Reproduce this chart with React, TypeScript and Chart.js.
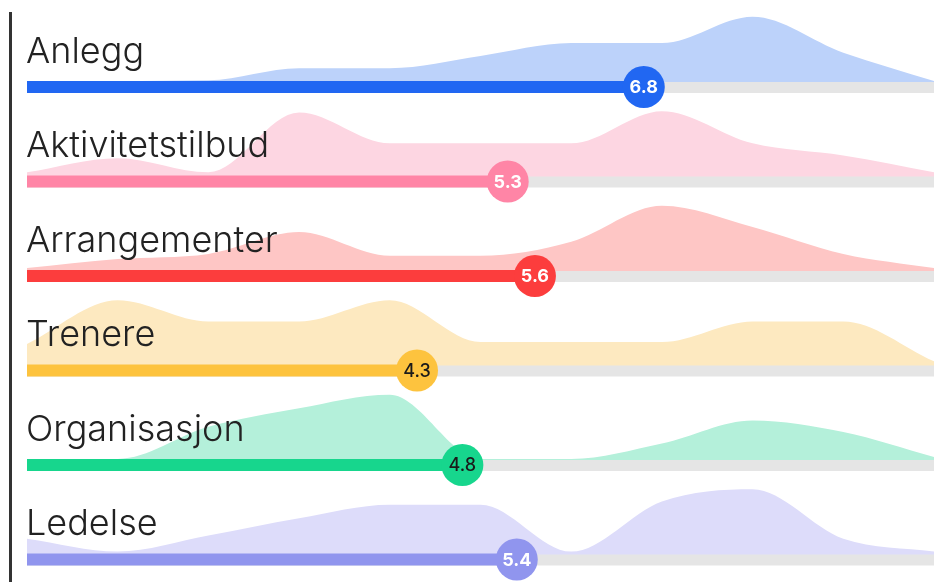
import React, { useEffect, useRef } from "react";
import { Chart, registerables } from "chart.js";

Chart.register(...registerables);

const categories = ["Anlegg", "Aktivitetstilbud", "Arrangementer", "Trenere", "Organisasjon", "Ledelse"];
const scores = [6.8, 5.3, 5.6, 4.3, 4.8, 5.4];
const scoreLabels = ["6.8", "5.3", "5.6", "4.3", "4.8", "5.4"];
const scalePoints = [0, 1, 2, 3, 4, 5, 6, 7, 8, 9, 10];

const densityAnlegg = [0, 0, 0.01, 0.2, 0.2, 0.39, 0.59, 0.59, 1.0, 0.44, 0];
const densityAktivitetstilbud = [0.05, 0.27, 0.05, 0.98, 0.5, 0.5, 0.5, 1.0, 0.5, 0.31, 0.05];
const densityArrangementer = [0.03, 0.17, 0.25, 0.59, 0.22, 0.22, 0.44, 1.0, 0.67, 0.25, 0.03];
const densityTrenere = [0.32, 1.0, 0.67, 0.67, 1.0, 0.35, 0.35, 0.35, 0.67, 0.67, 0.05];
const densityOrganisasjon = [0, 0, 0.5, 0.79, 1.0, 0, 0, 0.24, 0.6, 0.42, 0.03];
const densityLedelse = [0.23, 0.03, 0.28, 0.55, 0.76, 0.76, 0.03, 0.81, 1.0, 0.23, 0.03];

const densities = [
  densityAnlegg,
  densityAktivitetstilbud,
  densityArrangementer,
  densityTrenere,
  densityOrganisasjon,
  densityLedelse,
];

const barColors = ["#2167f2", "#ff85a6", "#fc3d3d", "#fdc33e", "#17d68d", "#9095ee"];
const areaColors = ["#bcd2fa", "#fdd6e2", "#fec6c5", "#fde9c0", "#b4f0da", "#dddcfa"];
const valueTextColors = ["#ffffff", "#ffffff", "#ffffff", "#1a1a1a", "#1a1a1a", "#ffffff"];

const CANVAS_W = 927;
const CANVAS_H = 582;
const PITCH = 94.5;
const FIRST_ROW = 87 / PITCH;
const Y_MAX = CANVAS_H / PITCH;
const BAR_HALF = 6 / PITCH;
const PEAK = 0.68;

export default function App() {
  const ref = useRef<HTMLCanvasElement | null>(null);

  useEffect(() => {
    if (!ref.current) return;
    const datasets: any[] = [];
    const centers = categories.map((_, i) => FIRST_ROW + i);

    categories.forEach((name, i) => {
      const c = centers[i];
      datasets.push({
        label: name + " fordeling",
        order: 40 - i,
        data: scalePoints.map((p, k) => ({ x: p, y: c - BAR_HALF - densities[i][k] * PEAK })),
        borderWidth: 0,
        borderColor: areaColors[i],
        backgroundColor: areaColors[i],
        fill: { value: c },
        pointRadius: 0,
        cubicInterpolationMode: "monotone",
        clip: false,
      });
      datasets.push({
        label: name + " skala",
        order: 30 - i,
        data: [
          { x: scalePoints[0], y: c + 0.6 / PITCH },
          { x: scalePoints[scalePoints.length - 1], y: c + 0.6 / PITCH },
        ],
        borderColor: "#e5e5e5",
        borderWidth: 11,
        borderCapStyle: "butt",
        pointRadius: 0,
        fill: false,
        clip: false,
      });
      datasets.push({
        label: name,
        order: 20 - i,
        data: [
          { x: scalePoints[0], y: c },
          { x: scores[i], y: c },
        ],
        borderColor: barColors[i],
        borderWidth: 12,
        borderCapStyle: "butt",
        pointRadius: 0,
        fill: false,
        clip: false,
      });
      datasets.push({
        label: name + " verdi",
        order: 10 - i,
        data: [{ x: scores[i], y: c }],
        showLine: false,
        pointRadius: 21,
        pointBorderWidth: 0,
        pointBackgroundColor: barColors[i],
        pointBorderColor: barColors[i],
        fill: false,
        clip: false,
      });
    });

    const labelPlugin = {
      id: "rowLabels",
      afterDatasetsDraw(chart: any) {
        const { ctx, scales } = chart;
        const xs = scales.x;
        const ys = scales.y;
        ctx.save();
        categories.forEach((name, i) => {
          const cy = ys.getPixelForValue(centers[i]);
          ctx.font = "350 36px Inter";
          ctx.fillStyle = "#222222";
          ctx.textAlign = "left";
          ctx.textBaseline = "alphabetic";
          ctx.fillText(name, xs.getPixelForValue(0) - 1, cy - 24.5);
          const cx = xs.getPixelForValue(scores[i]);
          ctx.font = (valueTextColors[i] === "#ffffff" ? "700" : "500") + " 18px Inter";
          ctx.fillStyle = valueTextColors[i];
          ctx.textAlign = "center";
          ctx.textBaseline = "middle";
          ctx.fillText(scoreLabels[i], cx, cy + 1);
        });
        ctx.restore();
      },
    };

    const chart = new Chart(ref.current, {
      type: "line",
      data: { datasets },
      options: {
        animation: false,
        responsive: false,
        events: [],
        layout: { autoPadding: false, padding: { left: 15, right: 5, top: 0, bottom: 0 } },
        scales: {
          x: { type: "linear", min: 0, max: 10, display: false },
          y: { type: "linear", min: 0, max: Y_MAX, reverse: true, display: false },
        },
        plugins: {
          legend: { display: false },
          tooltip: { enabled: false },
          title: { display: false },
        },
      },
      plugins: [labelPlugin],
    });
    return () => chart.destroy();
  }, []);

  return (
    <div>
      <div
        style={{
          position: "absolute",
          left: 9,
          top: 12,
          width: 3,
          height: 570,
          background: "#333333",
        }}
      />
      <canvas
        ref={ref}
        width={CANVAS_W}
        height={CANVAS_H}
        style={{ position: "absolute", left: 12, top: 0, width: CANVAS_W, height: CANVAS_H }}
      />
    </div>
  );
}
